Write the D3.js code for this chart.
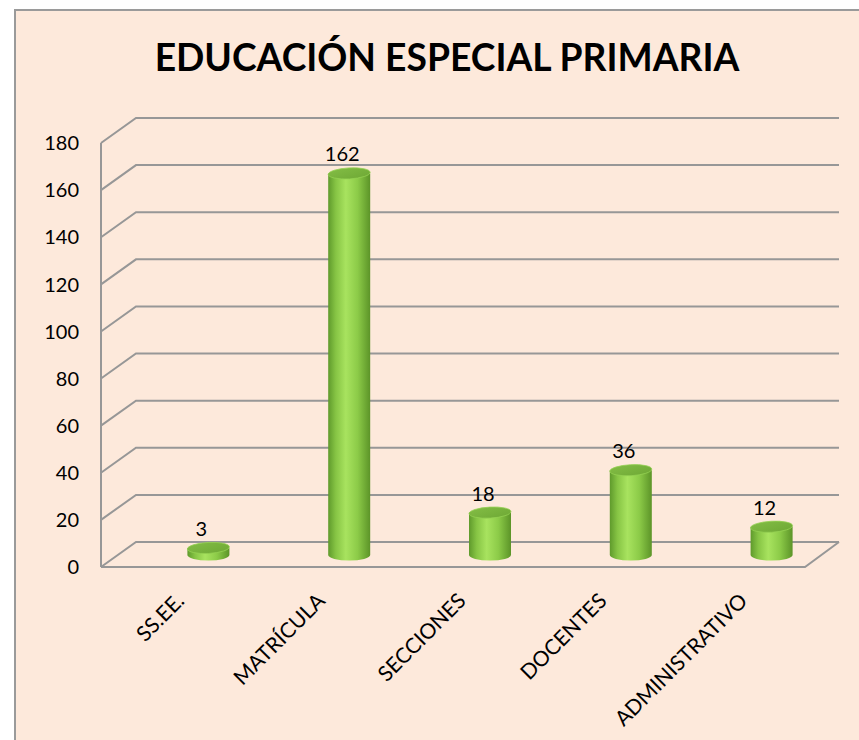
<!DOCTYPE html>
<html>
<head>
<meta charset="utf-8">
<script src="https://cdn.jsdelivr.net/npm/d3@7"></script>
<style>
  html, body { margin: 0; padding: 0; background: #ffffff; }
  svg { display: block; }
</style>
</head>
<body>
<script>
// Chart data
const title = "EDUCACIÓN ESPECIAL PRIMARIA";
const categories = ["SS.EE.", "MATRÍCULA", "SECCIONES", "DOCENTES", "ADMINISTRATIVO"];
const values = [3, 162, 18, 36, 12];
const yTicks = [0, 20, 40, 60, 80, 100, 120, 140, 160, 180];

const W = 859, H = 740;
const FONT = "Lato, 'Open Sans', sans-serif";

// 3D wall geometry
const depthX = 35, depthY = -25;
const frontLeft = 101, frontRight = 805;

const svg = d3.select("body").append("svg")
  .attr("width", W).attr("height", H);

const defs = svg.append("defs");
const grad = defs.append("linearGradient").attr("id", "cyl")
  .attr("x1", "0%").attr("x2", "100%").attr("y1", "0%").attr("y2", "0%");
[["0%", "#5f9a2c"], ["18%", "#86c444"], ["42%", "#a8e35f"], ["70%", "#8ccb48"], ["100%", "#5c9428"]]
  .forEach(([o, c]) => grad.append("stop").attr("offset", o).attr("stop-color", c));
const topGrad = defs.append("linearGradient").attr("id", "cylTop")
  .attr("x1", "0%").attr("x2", "100%").attr("y1", "0%").attr("y2", "100%");
[["0%", "#83bd45"], ["100%", "#6ea835"]]
  .forEach(([o, c]) => topGrad.append("stop").attr("offset", o).attr("stop-color", c));

// chart area background and frame
svg.append("rect").attr("x", 15).attr("y", 10).attr("width", W).attr("height", H)
  .attr("fill", "#fde9db").attr("stroke", "#9a9a9a").attr("stroke-width", 2);

// scales
const y = d3.scaleLinear().domain([0, 180]).range([567, 143]);
const x = d3.scaleBand().domain(categories).range([138, 842]);
const barBase = 555; // floor line at mid-depth
const yBar = d3.scaleLinear().domain([0, 180]).range([barBase, barBase - (567 - 143)]);

// gridlines on the side and back walls
const grid = svg.append("g").attr("fill", "none").attr("stroke", "#979797").attr("stroke-width", 2);
yTicks.forEach(t => {
  const yy = y(t);
  grid.append("polyline")
    .attr("points", `${frontLeft},${yy} ${frontLeft + depthX},${yy + depthY} 839,${yy + depthY}`);
});
// vertical axis and floor front/right edges
grid.append("line").attr("x1", frontLeft).attr("x2", frontLeft).attr("y1", y(180)).attr("y2", y(0));
grid.append("polyline")
  .attr("points", `${frontLeft},${y(0)} ${frontRight},${y(0)} 839,${y(0) + depthY}`);

// tick labels
svg.append("g").selectAll("text").data(yTicks).join("text")
  .attr("x", 79).attr("y", d => y(d)).attr("dy", "0.36em")
  .attr("text-anchor", "end")
  .attr("font-family", FONT).attr("font-size", 20).attr("fill", "#000")
  .text(d => d);

// cylinders
const rx = 21, ry = 5.5;
const bars = svg.append("g");
categories.forEach((c, i) => {
  const cx = x(c) + x.bandwidth() / 2;
  const yb = barBase, yt = yBar(values[i]);
  const g = bars.append("g");
  g.append("path")
    .attr("d", `M${cx - rx},${yt} L${cx - rx},${yb} A${rx},${ry} 0 0 0 ${cx + rx},${yb} L${cx + rx},${yt} Z`)
    .attr("fill", "url(#cyl)");
  g.append("ellipse")
    .attr("cx", cx).attr("cy", yt).attr("rx", rx).attr("ry", ry)
    .attr("transform", `rotate(-3 ${cx} ${yt})`)
    .attr("fill", "url(#cylTop)").attr("stroke", "#94d052").attr("stroke-width", 0.8);
  // value label
  g.append("text")
    .attr("x", cx - 7).attr("y", yt - 12)
    .attr("text-anchor", "middle")
    .attr("font-family", FONT).attr("font-size", 20).attr("fill", "#000")
    .text(values[i]);
});

// category labels, rotated; size chosen so the longest label spans ~177px
const catG = svg.append("g");
const catLabels = categories.map(c => {
  const ex = x(c) + x.bandwidth() / 2 - 28, ey = 597;
  return catG.append("text")
    .attr("transform", `translate(${ex},${ey}) rotate(-45)`)
    .attr("text-anchor", "end").attr("dy", "0.35em")
    .attr("font-family", FONT).attr("font-size", 17).attr("fill", "#000")
    .text(c);
});
const longest = d3.max(catLabels, s => s.node().getComputedTextLength());
const catSize = 17 * 177 / longest;
catLabels.forEach(s => s.attr("font-size", catSize));

// title sized to its target span
const t = svg.append("text")
  .attr("x", 447).attr("y", 71)
  .attr("text-anchor", "middle")
  .attr("font-family", FONT).attr("font-weight", "bold").attr("font-size", 36)
  .attr("fill", "#000").text(title);
const tl = t.node().getComputedTextLength();
t.attr("font-size", 36 * 585 / tl);
</script>
</body>
</html>
